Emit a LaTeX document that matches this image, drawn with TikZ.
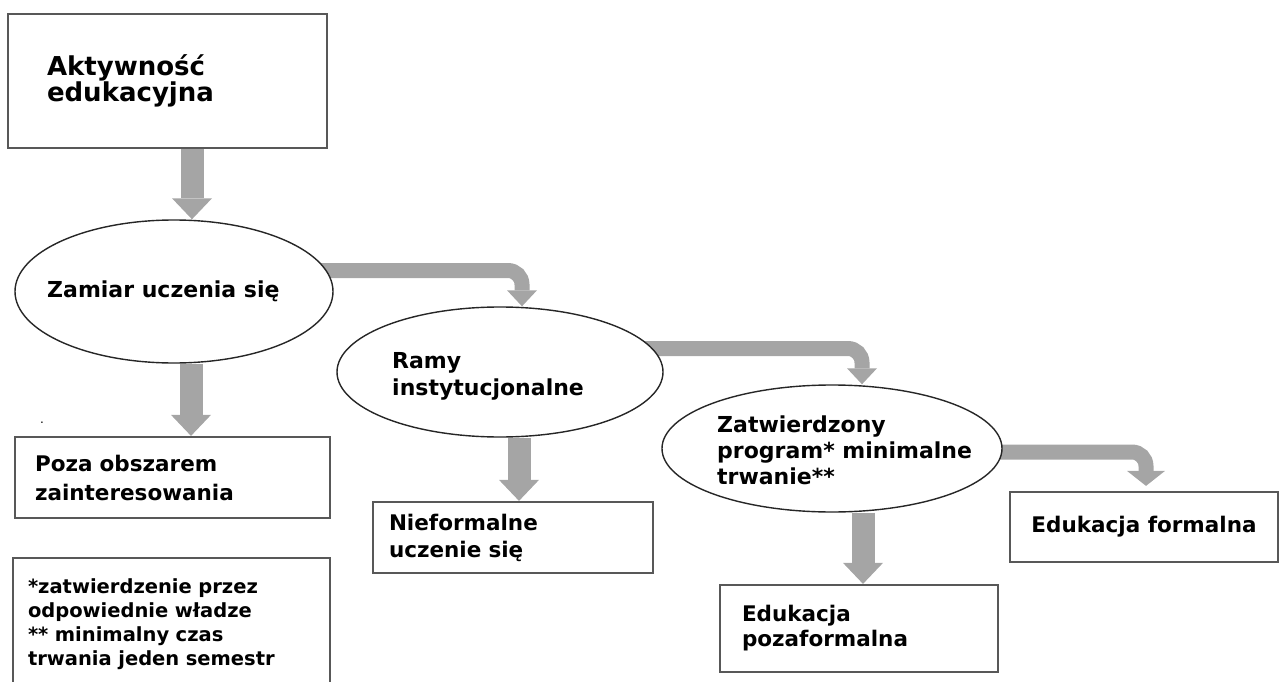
\documentclass[tikz,border=0pt]{standalone}
\usepackage{fontspec}
\setmainfont{DejaVu Sans}
\usetikzlibrary{arrows.meta,positioning,calc,shapes.geometric,backgrounds}
\definecolor{boxgray}{RGB}{88,88,88}
\definecolor{arrowgray}{RGB}{165,165,165}
\lineskiplimit=-100pt
\tikzset{
  box/.style={draw=boxgray,line width=2.2pt,fill=white,rectangle,align=left,
    font=\bfseries\fontsize{21.5}{27}\selectfont},
  oval/.style={draw=black!85,line width=1.4pt,fill=white,ellipse,inner sep=0pt},
  ovaltext/.style={align=left,inner sep=0pt,anchor=west,
    font=\bfseries\fontsize{22}{26}\selectfont},
  downarrow/.style={draw=arrowgray,line width=23pt,
    -{Triangle[length=21pt,width=40pt,line width=0pt]}},
  bentarrow/.style={draw=arrowgray,line width=15pt,rounded corners=14pt,
    -{Triangle[length=16pt,width=30pt,line width=0pt]}}
}
\begin{document}
\begin{tikzpicture}[x=1pt,y=-1pt]
  \useasboundingbox (0,0) rectangle (1283,682);

  \node[box,minimum width=319pt,minimum height=134pt,text width=241pt,inner xsep=39pt,
    font=\bfseries\fontsize{26}{25}\selectfont] (akt) at (167.5,81) {Aktywność\\edukacyjna};

  \node[oval,minimum width=318pt,minimum height=143pt] (zamiar) at (174,291.5) {};
  \node[ovaltext] (zamiar-t) at (47,291) {Zamiar uczenia się};

  \node[oval,minimum width=326pt,minimum height=130pt] (ramy) at (500,372) {};
  \node[ovaltext,font=\bfseries\fontsize{22}{27}\selectfont] (ramy-t) at (392,376) {Ramy\\instytucjonalne};

  \node[oval,minimum width=340pt,minimum height=127pt] (zatw) at (832,448.5) {};
  \node[ovaltext] (zatw-t) at (717,450) {Zatwierdzony\\program* minimalne\\trwanie**};

  \node[box,minimum width=315pt,minimum height=81pt,text width=275pt,inner xsep=20pt,
    font=\bfseries\fontsize{21.5}{29}\selectfont] (poza) at (172.5,477.5) {Poza obszarem\\zainteresowania};
  \node[font=\fontsize{12}{12}\selectfont,inner sep=0pt] (dot) at (42,423) {.};

  \node[box,minimum width=280pt,minimum height=71pt,text width=248pt,inner xsep=16pt] (nief) at (513,537.5) {Nieformalne\\uczenie się};

  \node[box,minimum width=278pt,minimum height=87pt,text width=234pt,inner xsep=22pt,
    font=\bfseries\fontsize{21.5}{25}\selectfont] (pozaf) at (859,628.5) {Edukacja\\pozaformalna};

  \node[box,minimum width=268pt,minimum height=70pt] (formal) at (1144,527) {Edukacja formalna};

  \node[box,minimum width=317pt,minimum height=133pt,text width=287pt,inner xsep=15pt,
    font=\bfseries\fontsize{19.5}{24}\selectfont] (note) at (171.5,624.5)
    {*zatwierdzenie przez\\odpowiednie władze\\{}** minimalny czas\\trwania jeden semestr};

  \draw[downarrow] ([xshift=24.5pt]akt.south) -- ([xshift=18pt]zamiar.north);
  \draw[downarrow] ([xshift=17pt]zamiar.south) -- ([xshift=18.5pt]poza.north);
  \draw[downarrow] ([xshift=19pt]ramy.south) -- ([xshift=6pt]nief.north);
  \draw[downarrow] ([xshift=31pt]zatw.south) -- ([xshift=4pt]pozaf.north);

  \begin{pgfonlayer}{background}
    \draw[bentarrow] ([yshift=21pt]zamiar.center) -| ([xshift=22pt]ramy.north);
    \draw[bentarrow] ([yshift=23.5pt]ramy.center) -| ([xshift=30pt]zatw.north);
    \draw[bentarrow,-{Triangle[length=15pt,width=38pt,line width=0pt]}]
      ([yshift=-3.5pt]zatw.center) -| ([xshift=2pt,yshift=5pt]formal.north);
  \end{pgfonlayer}
\end{tikzpicture}
\end{document}
